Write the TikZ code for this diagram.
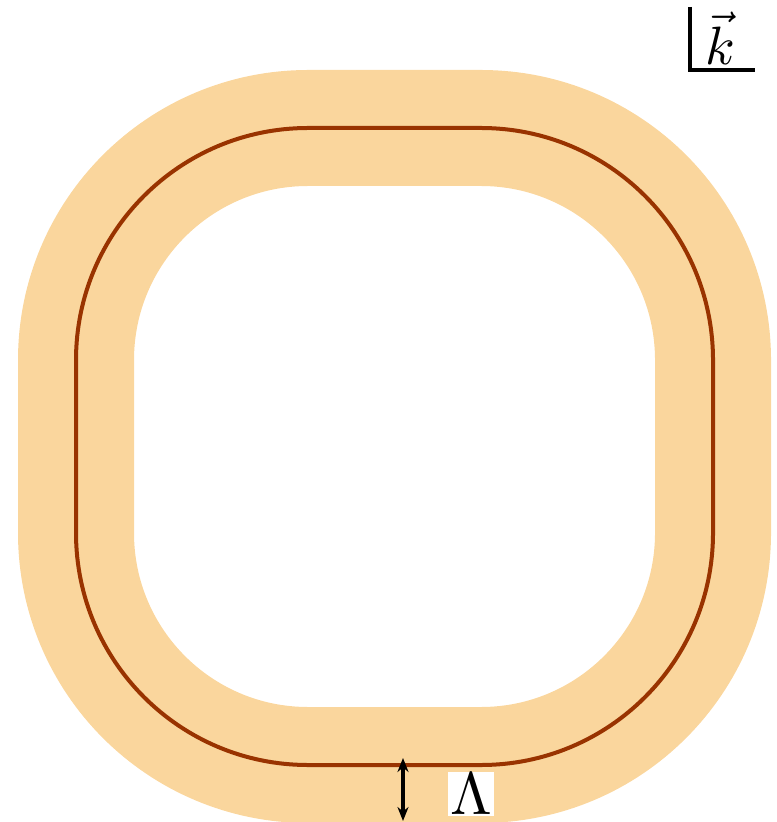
\documentclass[tikz,border=0pt]{standalone}
\usepackage{amsmath,amssymb,amsfonts}
\usetikzlibrary{positioning,calc,arrows.meta}
\definecolor{bandcol}{RGB}{250,214,157}
\definecolor{loopcol}{RGB}{153,51,0}
\tikzset{band/.style={draw=bandcol, line width=58pt, rounded corners=116pt},
	loopline/.style={draw=loopcol, line width=2pt, rounded corners=116pt}}

\begin{document}
\begin{tikzpicture}[x=0.5pt,y=-0.5pt]
		\useasboundingbox (0,0) rectangle (776,822);
		
		\coordinate (nw) at (76,128);
		\coordinate (se) at (713,765);
		\path[band] (nw) rectangle (se);
		\path[loopline] (nw) rectangle (se);
		
		\coordinate (lamtop) at (403,758);
		\coordinate (lambot) at (403,821);
		\draw[{Stealth[length=7pt,width=5.5pt]}-{Stealth[length=7pt,width=5.5pt]}, line width=2pt] (lamtop) -- (lambot);
		\node[fill=white, inner sep=0.3pt, scale=3] (lam) at (471,794) {$\Lambda$};
		
		\coordinate (ktop) at (690,7);
		\coordinate (kright) at (755,70);
		\draw[line width=2pt] (ktop) |- (kright);
		\node[scale=2.7, inner sep=0pt] (kvec) at (720,38) {$\vec{k}$};
		
	\end{tikzpicture}
\end{document}
